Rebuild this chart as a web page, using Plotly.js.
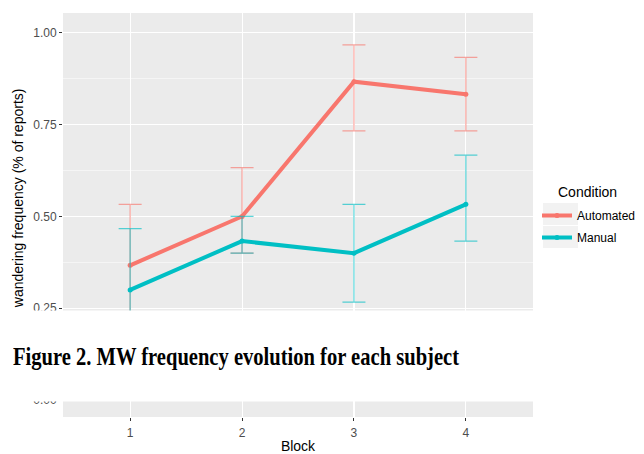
<!DOCTYPE html>
<html>
<head>
<meta charset="utf-8">
<script src="https://cdn.plot.ly/plotly-3.0.1.min.js"></script>
<style>html,body{margin:0;padding:0;background:#fff;} #chart{width:644px;height:454px;}</style>
</head>
<body>
<div id="chart"></div>
<script>
const blocks = [1, 2, 3, 4];
const automatedMean = [0.367, 0.5, 0.867, 0.833];
const automatedUpper = [0.533, 0.633, 0.967, 0.933];
const automatedLower = [0.2, 0.4, 0.733, 0.733];
const manualMean = [0.3, 0.433, 0.4, 0.533];
const manualUpper = [0.467, 0.5, 0.533, 0.667];
const manualLower = [0.133, 0.4, 0.267, 0.433];
const yTicks = [0, 0.25, 0.5, 0.75, 1.0];
const captionText = "Figure 2. MW frequency evolution for each subject";

function trace(name, group, mean, up, lo, color, errColor) {
  return {
    x: blocks, y: mean, name: name, legendgroup: group, type: 'scatter', mode: 'lines+markers',
    line: {color: color, width: 4},
    marker: {color: color, size: 5},
    error_y: {
      type: 'data', symmetric: false,
      array: up.map((u, i) => u - mean[i]),
      arrayminus: lo.map((l, i) => mean[i] - l),
      color: errColor, thickness: 1.2, width: 11.5
    }
  };
}

const data = [
  trace('Automated', 'a', automatedMean, automatedUpper, automatedLower, '#F8766D', 'rgba(248,118,109,0.65)'),
  trace('Manual', 'm', manualMean, manualUpper, manualLower, '#00BFC4', 'rgba(0,191,196,0.65)')
];

// pixel -> paper helpers for the legend key boxes and caption band
const L = 63, T = 13, W = 470, H = 404;
const px = v => (v - L) / W;
const py = v => (T + H - v) / H;

const layout = {
  width: 644, height: 454,
  margin: {l: L, r: 644 - L - W, t: T, b: 454 - T - H, autoexpand: false},
  paper_bgcolor: 'white', plot_bgcolor: '#EBEBEB',
  font: {family: 'Liberation Sans, Arial, sans-serif', size: 12, color: '#4D4D4D'},
  xaxis: {
    range: [0.4, 4.6], tickvals: blocks, ticktext: blocks.map(String),
    showgrid: true, gridcolor: 'white', gridwidth: 1.1, zeroline: false,
    ticks: 'outside', ticklen: 3, tickcolor: '#333', tickfont: {size: 12, color: '#4D4D4D'},
    ticklabelstandoff: 2,
    title: {text: 'Block', font: {size: 14, color: '#000'}, standoff: 9},
    showline: false, automargin: false
  },
  yaxis: {
    range: [-0.046, 1.054], tickvals: yTicks, ticktext: yTicks.map(v => v.toFixed(2)),
    showgrid: true, gridcolor: 'white', gridwidth: 1.1, zeroline: false,
    minor: {dtick: 0.125, tick0: 0, showgrid: true, gridcolor: 'white', gridwidth: 0.5},
    ticks: 'outside', ticklen: 3, tickcolor: '#333', tickfont: {size: 12, color: '#4D4D4D'},
    title: {text: 'Mind wandering frequency (% of reports)', font: {size: 14, color: '#000'}, standoff: 6},
    showline: false, automargin: false
  },
  legend: {
    x: px(537), xanchor: 'left', y: py(201), yanchor: 'top',
    font: {size: 12, color: '#000'}, itemwidth: 30, bgcolor: 'rgba(0,0,0,0)',
    tracegroupgap: 3
  },
  shapes: [
    {type: 'rect', xref: 'paper', yref: 'paper', x0: px(543), x1: px(578), y0: py(225), y1: py(203), fillcolor: '#F2F2F2', line: {width: 0}, layer: 'below'},
    {type: 'rect', xref: 'paper', yref: 'paper', x0: px(543), x1: px(578), y0: py(248), y1: py(226), fillcolor: '#F2F2F2', line: {width: 0}, layer: 'below'}
  ],
  annotations: [
    {
      xref: 'paper', yref: 'paper', x: px(556), xanchor: 'left', y: py(192), yanchor: 'middle',
      text: 'Condition', showarrow: false, font: {size: 14, color: '#000'}
    },
    {
      xref: 'paper', yref: 'paper', x: px(0), xanchor: 'left', y: py(356), yanchor: 'middle',
      text: '<b>' + captionText + '</b>', showarrow: false,
      width: 620, height: 66, borderpad: 12, align: 'left', valign: 'middle',
      bgcolor: 'white', font: {family: 'Liberation Serif, serif', size: 25, color: '#000'}
    }
  ]
};

Plotly.newPlot('chart', data, layout, {displayModeBar: false, staticPlot: true}).then(gd => {
  // fit caption glyph run to the reference width (narrow bold serif)
  const t = gd.querySelectorAll('.annotation-text');
  t.forEach(el => {
    if (el.textContent.indexOf('Figure 2') === 0) {
      el.setAttribute('textLength', '446');
      el.setAttribute('lengthAdjust', 'spacingAndGlyphs');
    }
  });
});
</script>
</body>
</html>
